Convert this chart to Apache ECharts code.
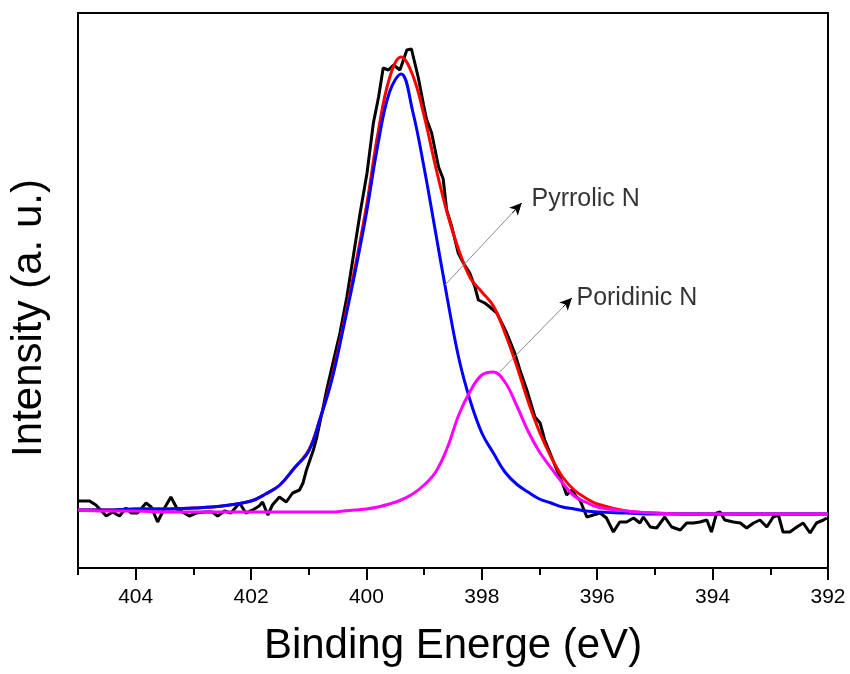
<!DOCTYPE html>
<html>
<head>
<meta charset="utf-8">
<script src="https://cdn.jsdelivr.net/npm/echarts@6/dist/echarts.min.js"></script>
<style>
html,body{margin:0;padding:0;background:#fff;}
#chart{width:850px;height:674px;}
</style>
</head>
<body>
<div id="chart"></div>
<script>
// ---- Data (binding energy in eV, intensity in arbitrary units) ----
var measuredBE = [405.00, 404.80, 404.69, 404.51, 404.40, 404.28, 404.17, 404.08, 403.97, 403.82,
  403.73, 403.62, 403.50, 403.39, 403.27, 403.19, 403.07, 402.95, 402.81, 402.67,
  402.58, 402.46, 402.35, 402.20, 402.09, 401.97, 401.86, 401.80, 401.71, 401.63,
  401.51, 401.39, 401.28, 401.16, 401.10, 401.04, 400.92, 400.86, 400.75, 400.69,
  400.57, 400.46, 400.34, 400.26, 400.11, 399.99, 399.88, 399.79, 399.71, 399.62,
  399.53, 399.42, 399.30, 399.22, 399.10, 399.01, 398.96, 398.87, 398.81, 398.75,
  398.67, 398.61, 398.52, 398.41, 398.32, 398.21, 398.12, 398.06, 397.95, 397.86,
  397.74, 397.57, 397.43, 397.34, 397.22, 397.08, 396.99, 396.91, 396.79, 396.70,
  396.59, 396.53, 396.44, 396.36, 396.30, 396.18, 396.07, 395.95, 395.84, 395.72,
  395.61, 395.49, 395.37, 395.26, 395.20, 395.08, 394.97, 394.83, 394.71, 394.56,
  394.45, 394.33, 394.22, 394.10, 394.02, 393.93, 393.87, 393.79, 393.64, 393.52,
  393.41, 393.29, 393.18, 393.06, 392.95, 392.86, 392.78, 392.66, 392.54, 392.43,
  392.31, 392.20, 392.08, 392.02];
var measuredIntensity = [67, 67, 63, 52, 56, 52, 60, 55, 55, 65,
  61, 46, 60, 71, 58, 56, 52, 55, 56, 56,
  52, 57, 55, 65, 55, 58, 62, 66, 53, 63,
  71, 66, 75, 78, 85, 98, 118, 131, 161, 178,
  208, 235, 271, 300, 355, 395, 445, 471, 500, 498,
  503, 498, 518, 519, 490, 463, 449, 435, 418, 401,
  389, 358, 341, 315, 305, 295, 281, 268, 265, 261,
  255, 235, 215, 198, 178, 151, 145, 128, 111, 98,
  83, 73, 78, 71, 68, 51, 53, 55, 50, 36,
  46, 46, 50, 45, 51, 41, 40, 51, 41, 38,
  45, 45, 46, 48, 36, 55, 56, 48, 46, 45,
  40, 45, 48, 41, 51, 53, 36, 36, 41, 45,
  35, 45, 48, 50];

var fitBE = [405, 404.5, 404, 403.5, 403, 402.5, 402, 401.75, 401.5, 401.25,
  401, 400.8, 400.6, 400.4, 400.2, 400, 399.8, 399.6, 399.4, 399.2,
  399, 398.8, 398.6, 398.4, 398.2, 398, 397.8, 397.6, 397.4, 397.2,
  397, 396.8, 396.6, 396.4, 396.2, 396, 395.5, 395, 394.5, 394, 393, 392];
var envelopeFit = [58, 58, 59, 59, 60, 62, 67, 74, 83, 100,
  118, 150, 190, 243, 300, 362, 435, 490, 511, 493,
  452, 401, 355, 318, 290, 276, 262, 235, 203, 167,
  136, 111, 91, 78, 70, 64, 57, 55, 54, 54, 54, 54];
var pyrrolicFit = [58, 58, 59, 59, 60, 62, 67, 74, 83, 100,
  117, 150, 188, 240, 295, 355, 424, 476, 494, 457,
  400, 335, 270, 210, 167, 135, 115, 96, 84, 76,
  69, 65, 61, 59, 57, 56, 55, 54, 54, 54, 54, 54];
var poridinicFit = [58, 57, 57, 56, 56, 56, 56, 56, 56, 56,
  56, 56, 56, 57, 58, 59, 61, 64, 68, 74,
  83, 96, 120, 153, 177, 193, 196, 186, 163, 137,
  116, 100, 85, 72, 66, 61, 57, 55, 54, 54, 54, 54];

var majorTicks = [404, 402, 400, 398, 396, 394, 392];
var minorTicks = [405, 403, 401, 399, 397, 395, 393];

var annotationTexts = ['Pyrrolic N', 'Poridinic N'];
// ---- end data ----

function pairs(xs, ys) { return xs.map(function (x, i) { return [x, ys[i]]; }); }

var FONT = "'Liberation Sans', Arial, sans-serif";

// annotation geometry (data space): arrow start, arrow end, label anchor
var annots = [
  { text: annotationTexts[0], from: [398.64, 283], to: [397.31, 365], at: [397.14, 369] },
  { text: annotationTexts[1], from: [397.69, 196], to: [396.44, 270], at: [396.36, 270] }
];
var grayLines = annots.map(function (a) { return [{ coord: a.from }, { coord: a.to }]; });
var heads = annots.map(function (a) {
  var s = [a.to[0] - 0.12 * (a.to[0] - a.from[0]), a.to[1] - 0.12 * (a.to[1] - a.from[1])];
  return [{ coord: s }, { coord: a.to }];
});

var chart = echarts.init(document.getElementById('chart'), null, { renderer: 'canvas' });
chart.setOption({
  animation: false,
  backgroundColor: '#ffffff',
  grid: { left: 78, right: 22, top: 13, bottom: 106, show: true, borderColor: '#000', borderWidth: 2, backgroundColor: 'transparent' },
  xAxis: [{
    type: 'value', min: 392, max: 405, inverse: true,
    name: 'Binding Energe (eV)', nameLocation: 'middle', nameGap: 57,
    nameTextStyle: { fontSize: 42, fontFamily: FONT, color: '#000' },
    axisLine: { show: true, onZero: false, lineStyle: { color: '#000', width: 2 } },
    axisTick: { show: true, inside: false, length: 12, customValues: majorTicks, lineStyle: { color: '#000', width: 2 } },
    axisLabel: { show: true, customValues: majorTicks, margin: 19, fontSize: 21, fontFamily: FONT, color: '#000' },
    splitLine: { show: false }
  }, {
    type: 'value', min: 392, max: 405, inverse: true, position: 'bottom',
    axisLine: { show: false },
    axisTick: { show: true, inside: false, length: 7, customValues: minorTicks, lineStyle: { color: '#000', width: 2 } },
    axisLabel: { show: false },
    splitLine: { show: false }
  }],
  yAxis: {
    type: 'value', min: 0, max: 555,
    name: 'Intensity (a. u.)', nameLocation: 'middle', nameGap: 28,
    nameTextStyle: { fontSize: 42, fontFamily: FONT, color: '#000', padding: [0, 55, 0, 0] },
    axisLine: { show: true, lineStyle: { color: '#000', width: 2 } },
    axisTick: { show: false }, axisLabel: { show: false }, splitLine: { show: false }
  },
  series: [
    {
      name: 'Measured', type: 'line', data: pairs(measuredBE, measuredIntensity),
      showSymbol: false, symbol: 'none', lineStyle: { color: '#000', width: 3 }, z: 2,
      markLine: {
        silent: true, symbol: ['none', 'none'], label: { show: false },
        lineStyle: { color: '#8c8c8c', width: 1, type: 'solid' },
        data: grayLines
      }
    },
    {
      name: 'Arrowheads', type: 'line', data: [], z: 6,
      markLine: {
        silent: true, symbol: ['none', 'arrow'], symbolSize: [9, 12], label: { show: false },
        lineStyle: { color: '#000', width: 1, type: 'solid' },
        data: heads
      }
    },
    {
      name: 'Envelope', type: 'line', data: pairs(fitBE, envelopeFit), smooth: 0.4,
      showSymbol: false, symbol: 'none', lineStyle: { color: '#ff0000', width: 3 }, z: 3
    },
    {
      name: 'Pyrrolic N', type: 'line', data: pairs(fitBE, pyrrolicFit), smooth: 0.4,
      showSymbol: false, symbol: 'none', lineStyle: { color: '#0000ff', width: 3 }, z: 4
    },
    {
      name: 'Poridinic N', type: 'line', data: pairs(fitBE, poridinicFit), smooth: 0.4,
      showSymbol: false, symbol: 'none', lineStyle: { color: '#ff00ff', width: 3 }, z: 5
    },
    {
      name: 'Labels', type: 'scatter', symbolSize: 0, z: 7, silent: true,
      data: annots.map(function (a) { return { value: a.at, name: a.text }; }),
      label: { show: true, position: 'right', distance: 0, formatter: '{b}', fontSize: 25, fontFamily: FONT, color: '#000' }
    }
  ]
});
</script>
</body>
</html>
